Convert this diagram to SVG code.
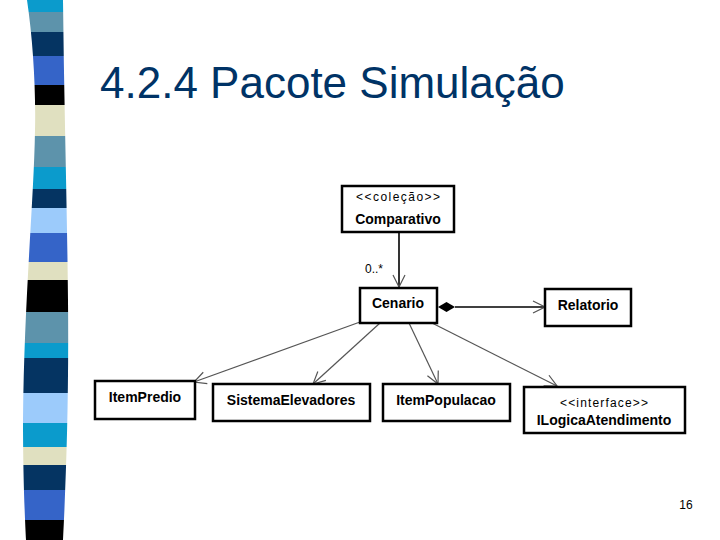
<svg xmlns="http://www.w3.org/2000/svg" width="720" height="540" viewBox="0 0 720 540">
<style>
.box{fill:#fff;stroke:#000;stroke-width:2.5}
.lbl{font-family:"Liberation Sans",Arial,sans-serif;font-size:14px;font-weight:bold;fill:#000;text-anchor:middle}
.st{font-family:"Liberation Sans",Arial,sans-serif;font-size:12px;fill:#000;text-anchor:middle}
.con{fill:none;stroke:#555;stroke-width:1.2}
.conb{fill:none;stroke:#000;stroke-width:1.6}
</style>
<defs>
<clipPath id="barclip">
<path d="M27,0 C33,40 36,90 35,130 C34,200 24,300 23,420 C23,480 25,520 26,540 L63,540 C66,480 69,400 68,300 C67,200 64,100 63,0 Z"/>
</clipPath>
<marker id="open" viewBox="0 0 14 14" refX="13" refY="7" markerWidth="14" markerHeight="14" markerUnits="userSpaceOnUse" orient="auto">
<path d="M1,1 L13,7 L1,13" fill="none" stroke="#555" stroke-width="1.2"/>
</marker>
</defs>
<rect width="720" height="540" fill="#fff"/>
<g id="stripes" clip-path="url(#barclip)">
<rect x="0" y="0" width="80" height="12" fill="#0b9bcc"/>
<rect x="0" y="12" width="80" height="20" fill="#5d93ab"/>
<rect x="0" y="32" width="80" height="24" fill="#053462"/>
<rect x="0" y="56" width="80" height="29" fill="#3564c8"/>
<rect x="0" y="85" width="80" height="20" fill="#000"/>
<rect x="0" y="105" width="80" height="31" fill="#e0e0c0"/>
<rect x="0" y="136" width="80" height="31" fill="#5d93ab"/>
<rect x="0" y="167" width="80" height="22" fill="#0b9bcc"/>
<rect x="0" y="189" width="80" height="19" fill="#053462"/>
<rect x="0" y="208" width="80" height="25" fill="#9ccbfb"/>
<rect x="0" y="233" width="80" height="29" fill="#3564c8"/>
<rect x="0" y="262" width="80" height="18" fill="#e0e0c0"/>
<rect x="0" y="280" width="80" height="32" fill="#000"/>
<rect x="0" y="312" width="80" height="31" fill="#5d93ab"/>
<rect x="0" y="343" width="80" height="15" fill="#0b9bcc"/>
<rect x="0" y="358" width="80" height="35" fill="#053462"/>
<rect x="0" y="393" width="80" height="30" fill="#9ccbfb"/>
<rect x="0" y="423" width="80" height="24" fill="#0b9bcc"/>
<rect x="0" y="447" width="80" height="18" fill="#e0e0c0"/>
<rect x="0" y="465" width="80" height="25" fill="#053462"/>
<rect x="0" y="490" width="80" height="30" fill="#3564c8"/>
<rect x="0" y="520" width="80" height="20" fill="#000"/>
</g>
<text x="100" y="98" font-family="Liberation Sans,Arial,sans-serif" font-size="44" fill="#003366">4.2.4 Pacote Simulação</text>
<g id="connectors">
<line class="conb" x1="399" y1="233" x2="399" y2="287" marker-end="url(#open)"/>
<text x="365" y="273" font-family="Liberation Sans,Arial,sans-serif" font-size="12" fill="#000">0..*</text>
<line class="conb" x1="455" y1="307" x2="545" y2="307" marker-end="url(#open)"/>
<path d="M438,307 L446.5,302 L455,307 L446.5,312 Z" fill="#000"/>
<line class="con" x1="360" y1="322" x2="194" y2="382" marker-end="url(#open)"/>
<line class="con" x1="380" y1="323" x2="313" y2="384" marker-end="url(#open)"/>
<line class="con" x1="409" y1="323" x2="438" y2="384" marker-end="url(#open)"/>
<line class="con" x1="432" y1="323" x2="557" y2="386" marker-end="url(#open)"/>
</g>
<g id="comparativo">
<rect class="box" x="342" y="186" width="112" height="46" stroke-width="1.6"/>
<text class="st" x="398" y="201" textLength="84" lengthAdjust="spacing">&lt;&lt;coleção&gt;&gt;</text>
<text class="lbl" x="398" y="224">Comparativo</text>
</g>
<g id="cenario">
<rect class="box" x="360" y="288" width="77" height="35"/>
<text class="lbl" x="398" y="308">Cenario</text>
</g>
<g id="relatorio">
<rect class="box" x="545" y="289" width="86" height="37"/>
<text class="lbl" x="588" y="310">Relatorio</text>
</g>
<g id="itempredio">
<rect class="box" x="95" y="381" width="100" height="38"/>
<text class="lbl" x="145" y="402">ItemPredio</text>
</g>
<g id="sistemaelevadores">
<rect class="box" x="213" y="384" width="157" height="37" stroke-width="1.8"/>
<text class="lbl" x="291" y="405">SistemaElevadores</text>
</g>
<g id="itempopulacao">
<rect class="box" x="383" y="384" width="127" height="37" stroke-width="1.8"/>
<text class="lbl" x="446" y="405">ItemPopulacao</text>
</g>
<g id="ilogica">
<rect class="box" x="524" y="387" width="161" height="46" stroke-width="1.8"/>
<text class="st" x="604" y="407" textLength="88" lengthAdjust="spacing">&lt;&lt;interface&gt;&gt;</text>
<text class="lbl" x="604" y="425">ILogicaAtendimento</text>
</g>
<text x="686" y="509" font-family="Liberation Sans,Arial,sans-serif" font-size="12" fill="#000" text-anchor="middle">16</text>
</svg>
